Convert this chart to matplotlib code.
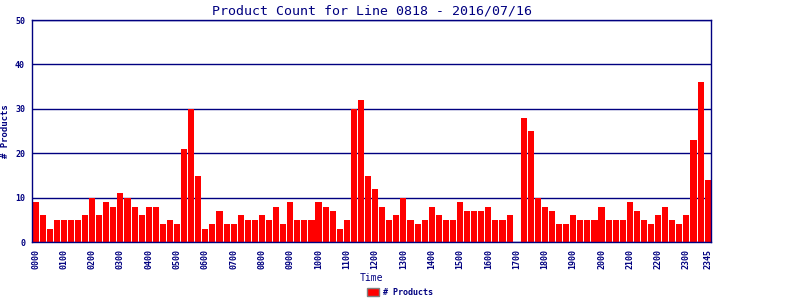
import numpy as np
import matplotlib
matplotlib.use("Agg")
import matplotlib.pyplot as plt
from matplotlib.patches import Patch

# counts per 15-minute slot, 0000 .. 2345
counts = [9, 6, 3, 5, 5, 5, 5, 6, 10, 6, 9, 8, 11, 10, 8, 6,
          8, 8, 4, 5, 4, 21, 30, 15, 3, 4, 7, 4, 4, 6, 5, 5,
          6, 5, 8, 4, 9, 5, 5, 5, 9, 8, 7, 3, 5, 30, 32, 15,
          12, 8, 5, 6, 10, 5, 4, 5, 8, 6, 5, 5, 9, 7, 7, 7,
          8, 5, 5, 6, 0, 28, 25, 10, 8, 7, 4, 4, 6, 5, 5, 5,
          8, 5, 5, 5, 9, 7, 5, 4, 6, 8, 5, 4, 6, 23, 36, 14]
slots = ["%02d%02d" % (h, m) for h in range(24) for m in (0, 15, 30, 45)]
yticks = [0, 10, 20, 30, 40, 50]

navy = "#000080"
plt.rcParams['font.family'] = ['DejaVu Sans Mono']

fig = plt.figure(figsize=(8, 3), dpi=100)
ax = fig.add_axes([0.04, 0.193, 0.849, 0.74])

x = np.arange(len(counts))
ax.bar(x, counts, width=0.86, color="#ff0000", zorder=2)

ax.set_xlim(-0.5, len(counts) - 0.5)
ax.set_ylim(0, 50)
ax.set_yticks(yticks)
ax.set_yticklabels([str(v) for v in yticks], fontsize=6, color=navy,
                   fontweight="bold")
ax.yaxis.grid(True, color=navy, linewidth=1.0, zorder=1)

tick_idx = list(range(0, len(counts), 4)) + [len(counts) - 1]
ax.set_xticks(tick_idx)
ax.set_xticklabels([slots[i] for i in tick_idx], rotation=90, fontsize=6,
                   color=navy, fontweight="bold")
ax.tick_params(length=0, pad=5)

for s in ax.spines.values():
    s.set_color(navy)
    s.set_linewidth(1.0)

ax.set_title("Product Count for Line 0818 - 2016/07/16", fontsize=9.5,
             color=navy, pad=4)
ax.set_xlabel("Time", fontsize=7, color=navy, labelpad=3)
ax.set_ylabel("# Products", fontsize=6.5, color=navy, fontweight="bold",
              labelpad=4)

handle = Patch(facecolor="#ff0000", edgecolor="gray", linewidth=1)
fig.legend([handle], ["# Products"], loc="lower center",
           bbox_to_anchor=(0.5, -0.015), frameon=False,
           handlelength=1.4, handleheight=1.1, handletextpad=0.5,
           prop={"size": 6, "weight": "bold"}, labelcolor=navy)

fig.savefig("out.png", dpi=100)
